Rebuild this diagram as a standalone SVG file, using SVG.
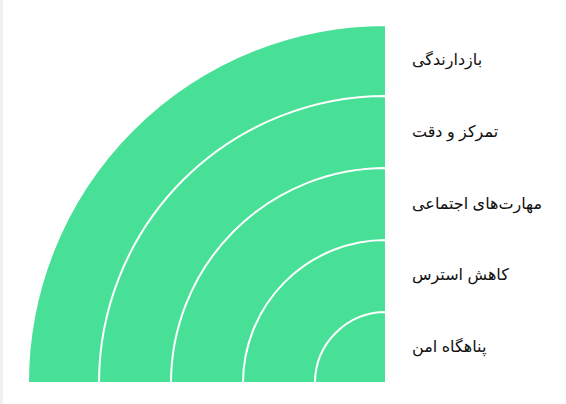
<svg xmlns="http://www.w3.org/2000/svg" width="566" height="404" viewBox="0 0 566 404">
<style>
.ring{fill:#48e096;stroke:#ffffff;stroke-width:2}
.lbl{font-family:"Liberation Sans","DejaVu Sans",sans-serif;font-size:16px;fill:#111111;dominant-baseline:middle}
</style>
<rect width="566" height="404" fill="#ffffff"/>
<rect x="0" y="0" width="3" height="404" fill="#f0f0f0"/>
<g id="ring1"><path class="ring" d="M386,383 L28,383 A358,358 0 0 1 386,25 Z"/><text class="lbl" x="412" y="61">بازدارندگی</text></g>
<g id="ring2"><path class="ring" d="M386,383 L99,383 A287,287 0 0 1 386,96 Z"/><text class="lbl" x="412" y="133">تمرکز و دقت</text></g>
<g id="ring3"><path class="ring" d="M386,383 L171,383 A215,215 0 0 1 386,168 Z"/><text class="lbl" x="412" y="205">مهارت‌های اجتماعی</text></g>
<g id="ring4"><path class="ring" d="M386,383 L243,383 A143,143 0 0 1 386,240 Z"/><text class="lbl" x="412" y="276">کاهش استرس</text></g>
<g id="ring5"><path class="ring" d="M386,383 L315,383 A71,71 0 0 1 386,312 Z"/><text class="lbl" x="412" y="348">پناهگاه امن</text></g>
<g id="connectors"/>
</svg>
